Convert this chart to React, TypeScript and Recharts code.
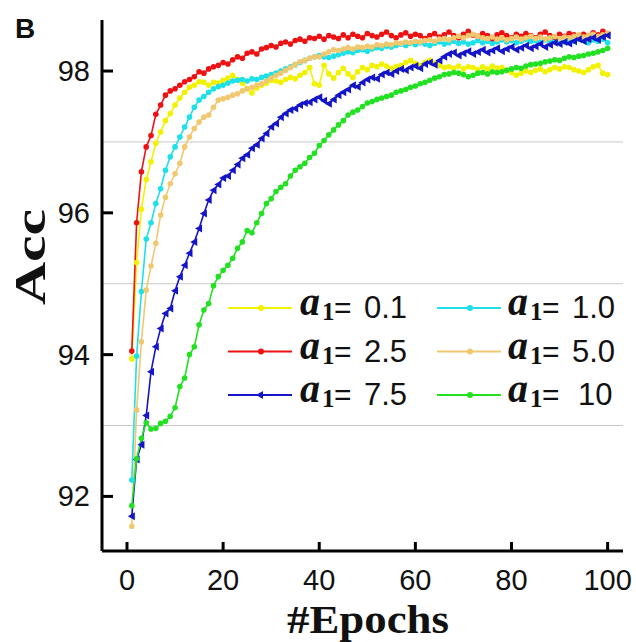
import { LineChart, Line, XAxis, YAxis, ReferenceLine, Legend, Label } from 'recharts';

const epochs = Array.from({ length: 100 }, (_, i) => i + 1);

const acc01 = [
  93.94, 95.3, 96.05, 96.47, 96.72, 96.98, 97.14, 97.3, 97.4, 97.52,
  97.62, 97.7, 97.77, 97.8, 97.85, 97.84, 97.8, 97.84, 97.83, 97.87,
  97.9, 97.94, 97.88, 97.83, 97.75, 97.69, 97.76, 97.8, 97.83, 97.87,
  97.86, 97.84, 97.88, 97.91, 97.89, 97.94, 97.98, 98.05, 97.82, 97.8,
  98.08, 97.96, 97.9, 97.98, 98.04, 97.96, 97.91, 97.99, 98.05, 98.02,
  98.08, 98.06, 98.1, 98.07, 98.04, 98.06, 98.08, 98.12, 98.15, 98.11,
  98.08, 98.12, 98.15, 98.11, 98.08, 98.05, 98.06, 98.04, 98.07, 98.03,
  98.06, 98.05, 98.02, 98.06, 98.03, 98.07, 98.04, 98.05, 98.01, 97.98,
  97.94, 97.97, 98.0, 97.98, 98.01, 98.03, 97.99, 98.02, 98.05, 98.03,
  98.06, 98.05, 98.02, 98.0, 97.98, 98.02, 98.06, 98.08, 97.97, 97.95,
];

const acc10 = [
  92.23, 93.98, 94.89, 95.63, 95.86, 96.13, 96.34, 96.6, 96.79, 96.93,
  97.07, 97.21, 97.35, 97.49, 97.59, 97.64, 97.7, 97.75, 97.78, 97.8,
  97.83, 97.86, 97.87, 97.88, 97.86, 97.89, 97.88, 97.91, 97.93, 97.95,
  97.97, 98.0, 98.03, 98.06, 98.09, 98.12, 98.15, 98.18, 98.2, 98.22,
  98.2, 98.19, 98.21, 98.23, 98.25, 98.27, 98.26, 98.29, 98.3, 98.28,
  98.31, 98.33, 98.32, 98.35, 98.34, 98.36, 98.38, 98.36, 98.39, 98.37,
  98.4, 98.38, 98.36, 98.39, 98.41, 98.38, 98.4, 98.42, 98.39, 98.41,
  98.38, 98.4, 98.43, 98.4, 98.42, 98.39, 98.41, 98.44, 98.41, 98.43,
  98.4, 98.42, 98.45, 98.42, 98.43, 98.41, 98.44, 98.42, 98.45, 98.43,
  98.41, 98.44, 98.42, 98.45, 98.43, 98.4, 98.44, 98.42, 98.45, 98.4,
];

const acc25 = [
  94.05, 95.86, 96.58, 96.93, 97.09, 97.39, 97.52, 97.66, 97.72, 97.75,
  97.8, 97.85, 97.88, 97.92, 97.99, 97.97, 98.03, 98.06, 98.08, 98.12,
  98.1, 98.16, 98.2, 98.18, 98.25, 98.27, 98.24, 98.31, 98.33, 98.36,
  98.34, 98.39, 98.41, 98.38, 98.43, 98.45, 98.42, 98.47, 98.46, 98.49,
  98.45, 98.5, 98.48, 98.46, 98.51, 98.47, 98.52, 98.49, 98.47, 98.53,
  98.5, 98.48, 98.52, 98.55, 98.5, 98.47, 98.51, 98.54, 98.49, 98.52,
  98.5, 98.46, 98.5, 98.53, 98.48, 98.51, 98.55, 98.5, 98.47, 98.52,
  98.56, 98.51, 98.49, 98.53, 98.5, 98.46, 98.51, 98.54, 98.5, 98.47,
  98.52, 98.49, 98.53, 98.5, 98.47, 98.52, 98.55, 98.5, 98.48, 98.52,
  98.49, 98.53, 98.51, 98.48, 98.52, 98.5, 98.54, 98.51, 98.56, 98.53,
];

const acc50 = [
  91.58, 93.22, 94.18, 94.91, 95.25, 95.57, 95.97, 96.22, 96.41, 96.55,
  96.7, 96.93, 97.07, 97.19, 97.28, 97.35, 97.38, 97.49, 97.59, 97.61,
  97.63, 97.66, 97.68, 97.72, 97.75, 97.77, 97.8, 97.82, 97.86, 97.9,
  97.94, 97.97, 98.01, 98.05, 98.09, 98.13, 98.15, 98.18, 98.2, 98.2,
  98.24, 98.27, 98.3, 98.29, 98.31, 98.33, 98.31, 98.34, 98.33, 98.35,
  98.34, 98.37, 98.36, 98.38, 98.37, 98.4, 98.39, 98.41, 98.4, 98.42,
  98.41, 98.43, 98.44, 98.42, 98.45, 98.46, 98.44, 98.47, 98.49, 98.47,
  98.5, 98.52, 98.49, 98.47, 98.46, 98.48, 98.45, 98.47, 98.44, 98.46,
  98.48, 98.45, 98.47, 98.49, 98.46, 98.48, 98.45, 98.47, 98.49, 98.46,
  98.48, 98.47, 98.49, 98.51, 98.48, 98.5, 98.52, 98.49, 98.51, 98.53,
];

const acc75 = [
  91.72, 92.52, 92.73, 93.14, 93.76, 94.11, 94.37, 94.58, 94.65, 94.9,
  95.1, 95.26, 95.43, 95.59, 95.78, 95.99, 96.18, 96.32, 96.4, 96.49,
  96.52, 96.6, 96.68, 96.77, 96.82, 96.91, 96.96, 97.05, 97.12, 97.21,
  97.26, 97.35, 97.4, 97.45, 97.47, 97.52, 97.55, 97.56, 97.6, 97.63,
  97.58, 97.54, 97.6, 97.66, 97.7, 97.74, 97.8, 97.78, 97.84, 97.88,
  97.91, 97.89, 97.95, 97.98, 97.96, 98.0, 98.03, 98.01, 98.05, 98.07,
  98.04, 98.1, 98.12, 98.09, 98.15, 98.2, 98.24, 98.26, 98.22, 98.25,
  98.28, 98.24, 98.27, 98.3, 98.26, 98.29, 98.32, 98.28, 98.31, 98.34,
  98.3, 98.33, 98.36, 98.32, 98.35, 98.38, 98.34, 98.37, 98.4, 98.38,
  98.41, 98.39, 98.42, 98.45, 98.42, 98.45, 98.47, 98.44, 98.48, 98.5,
];

const acc100 = [
  91.87, 92.53, 92.82, 93.04, 92.95, 92.96, 93.03, 93.06, 93.13, 93.25,
  93.55, 93.67, 94.0, 94.11, 94.42, 94.63, 94.72, 94.97, 95.1, 95.19,
  95.26, 95.36, 95.5, 95.59, 95.75, 95.72, 95.86, 95.99, 96.13, 96.2,
  96.3, 96.36, 96.41, 96.52, 96.6, 96.65, 96.7, 96.78, 96.84, 96.95,
  97.02, 97.1, 97.17, 97.24, 97.3, 97.38, 97.42, 97.45, 97.5, 97.55,
  97.57, 97.6, 97.62, 97.64, 97.66, 97.7, 97.72, 97.74, 97.77, 97.79,
  97.82, 97.84, 97.87, 97.9, 97.92, 97.95, 97.96, 97.98, 97.97, 97.95,
  97.92, 97.94, 97.97, 97.98, 97.96, 97.99, 97.98, 97.99, 98.01, 98.03,
  98.05, 98.04, 98.07, 98.09, 98.1, 98.11, 98.13, 98.14, 98.16, 98.15,
  98.18, 98.2, 98.19, 98.21, 98.22, 98.24, 98.25, 98.27, 98.29, 98.32,
];

const xTicks = [0, 20, 40, 60, 80, 100];
const yTicks = [92, 94, 96, 98];
const gridValues = [93, 95, 97];

const data = epochs.map((epoch, i) => ({
  epoch,
  a01: acc01[i],
  a10: acc10[i],
  a25: acc25[i],
  a50: acc50[i],
  a75: acc75[i],
  a100: acc100[i],
}));

const SERIES = [
  { key: 'a01', label: '0.1', color: '#f2f200', triangle: false },
  { key: 'a10', label: '1.0', color: '#1ee0e8', triangle: false },
  { key: 'a25', label: '2.5', color: '#ee1111', triangle: false },
  { key: 'a50', label: '5.0', color: '#f0c870', triangle: false },
  { key: 'a75', label: '7.5', color: '#1414c8', triangle: true },
  { key: 'a100', label: '10', color: '#22e022', triangle: false },
];

const SANS = '"Liberation Sans", Arial, sans-serif';
const SERIF = '"Liberation Serif", "Times New Roman", serif';

function triangleDot(color: string) {
  return (props: any) => {
    const { cx, cy, key } = props;
    if (cx == null || cy == null) return <g key={key} />;
    return (
      <path
        key={key}
        d={`M${cx - 4},${cy} L${cx + 3},${cy - 4} L${cx + 3},${cy + 4} Z`}
        fill={color}
      />
    );
  };
}

function XTick({ x, y, payload }: any) {
  return (
    <g>
      <line x1={x} y1={y} x2={x} y2={y - 9} stroke="#000" strokeWidth={3} />
      <text x={x} y={y + 39} textAnchor="middle" fontFamily={SANS} fontSize={29} fill="#111">
        {payload.value}
      </text>
    </g>
  );
}

function YTick({ x, y, payload }: any) {
  return (
    <g>
      <line x1={x} y1={y} x2={x + 11} y2={y} stroke="#000" strokeWidth={3} />
      <text x={x - 12} y={y + 10} textAnchor="end" fontFamily={SANS} fontSize={29} fill="#111">
        {payload.value}
      </text>
    </g>
  );
}

// legend placed inside the plot, 3 rows x 2 columns
const legendRows = [
  [0, 1],
  [2, 3],
  [4, 5],
];

function LegendBox() {
  return (
    <svg width={416} height={140} style={{ display: 'block' }}>
      {legendRows.map((row, r) =>
        row.map((si, c) => {
          const s = SERIES[si];
          const base = 38 + r * 43.5;
          const lx = c === 0 ? 8 : 217;
          const tx = c === 0 ? 80 : 288;
          const my = base - 10;
          return (
            <g key={s.key}>
              <line x1={lx} y1={my} x2={lx + 64} y2={my} stroke={s.color} strokeWidth={2} />
              {s.triangle ? (
                <path d={`M${lx + 28},${my} L${lx + 35},${my - 4} L${lx + 35},${my + 4} Z`} fill={s.color} />
              ) : (
                <circle cx={lx + 33} cy={my} r={3} fill={s.color} />
              )}
              <text x={tx} y={base - 3} fontFamily={SERIF} fontStyle="italic" fontWeight="bold" fontSize={40} fill="#111">
                a
              </text>
              <text x={tx + 22} y={base + 2} fontFamily={SERIF} fontWeight="bold" fontSize={25} fill="#111">
                1
              </text>
              <text x={tx + 34} y={base} fontFamily={SANS} fontSize={30} fill="#111">
                =
              </text>
              <text x={tx + (s.label.length === 2 ? 70 : 64)} y={base} fontFamily={SANS} fontSize={31} fill="#111">
                {s.label}
              </text>
            </g>
          );
        })
      )}
    </svg>
  );
}

export default function App() {
  return (
    <div style={{ position: 'absolute', left: 0, top: 0, width: 636, height: 642, background: '#fff' }}>
      <LineChart
        width={636}
        height={642}
        data={data}
        margin={{ top: 20, right: 13, bottom: 31, left: 42 }}
      >
        {gridValues.map((v) => (
          <ReferenceLine key={v} y={v} stroke="#c8c8c8" strokeWidth={1} />
        ))}
        <XAxis
          dataKey="epoch"
          type="number"
          domain={[-5.2, 103.2]}
          ticks={xTicks}
          allowDataOverflow
          height={60}
          tickSize={0}
          tickMargin={0}
          tickLine={false}
          axisLine={{ stroke: '#000', strokeWidth: 3 }}
          tick={<XTick />}
          interval={0}
        >
          <Label
            content={() => (
              <text
                x={368}
                y={633}
                textAnchor="middle"
                fontFamily={SERIF}
                fontWeight="bold"
                fontSize={39}
                textLength={162}
                lengthAdjust="spacingAndGlyphs"
                fill="#111"
              >
                #Epochs
              </text>
            )}
          />
        </XAxis>
        <YAxis
          type="number"
          domain={[91.23, 98.72]}
          ticks={yTicks}
          allowDataOverflow
          width={60}
          tickSize={0}
          tickMargin={0}
          tickLine={false}
          axisLine={{ stroke: '#000', strokeWidth: 3 }}
          tick={<YTick />}
          interval={0}
        >
          <Label
            content={() => (
              <text
                transform="translate(45,257) rotate(-90)"
                x={0}
                y={0}
                textAnchor="middle"
                fontFamily={SERIF}
                fontWeight="bold"
                fontSize={44}
                textLength={96}
                lengthAdjust="spacingAndGlyphs"
                fill="#111"
              >
                Acc
              </text>
            )}
          />
        </YAxis>
        {SERIES.map((s) => (
          <Line
            key={s.key}
            type="linear"
            dataKey={s.key}
            stroke={s.color}
            strokeWidth={1.6}
            dot={s.triangle ? triangleDot(s.color) : { r: 2.8, fill: s.color, stroke: 'none' }}
            activeDot={false}
            isAnimationActive={false}
          />
        ))}
        <Legend
          layout="horizontal"
          verticalAlign="middle"
          align="center"
          wrapperStyle={{ left: 220, top: 280, width: 416, height: 140 }}
          content={() => <LegendBox />}
        />
      </LineChart>
      <svg width={60} height={50} style={{ position: 'absolute', left: 0, top: 0 }}>
        <text x={15} y={38} fontFamily={SANS} fontWeight="bold" fontSize={28} fill="#111">
          B
        </text>
      </svg>
    </div>
  );
}
